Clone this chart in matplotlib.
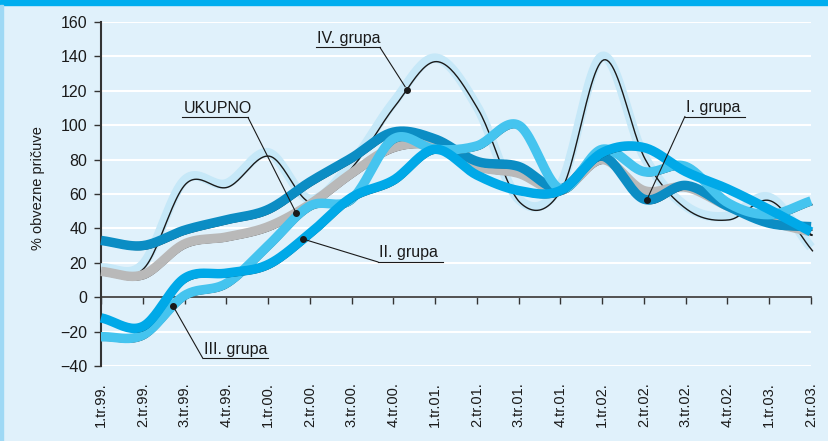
import numpy as np
import matplotlib
matplotlib.use('Agg')
import matplotlib.pyplot as plt
from matplotlib import transforms
from matplotlib.patches import Rectangle

plt.rcParams['font.family'] = ['Liberation Sans', 'DejaVu Sans']

quarters = ['1.tr.99.', '2.tr.99.', '3.tr.99.', '4.tr.99.',
            '1.tr.00.', '2.tr.00.', '3.tr.00.', '4.tr.00.',
            '1.tr.01.', '2.tr.01.', '3.tr.01.', '4.tr.01.',
            '1.tr.02.', '2.tr.02.', '3.tr.02.', '4.tr.02.',
            '1.tr.03.', '2.tr.03.']

grupa_iv = [17, 19, 68, 66, 84, 57, 78, 113, 139, 111, 57, 65, 140, 82, 53, 47, 58, 29]
ukupno = [15, 13, 31, 35, 41, 54, 72, 87, 88, 76, 72, 62, 80, 62, 64, 53, 44, 38]
grupa_i = [33, 30, 39, 45, 51, 67, 81, 96, 92, 79, 76, 63, 82, 57, 65, 53, 43, 41]
grupa_ii = [-12, -17, 11, 14, 19, 37, 58, 68, 86, 71, 62, 62, 84, 87, 73, 63, 51, 38]
grupa_iii = [-23, -22, 1, 8, 30, 53, 57, 92, 86, 88, 100, 63, 86, 73, 76, 55, 48, 56]

bg = '#e0f1fb'


def smooth(vals, n=24):
    # catmull-rom through the quarterly points
    p = np.array(vals, dtype=float)
    p = np.concatenate([[2 * p[0] - p[1]], p, [2 * p[-1] - p[-2]]])
    xs, ys = [], []
    t = np.linspace(0, 1, n, endpoint=False)
    for i in range(1, len(p) - 2):
        p0, p1, p2, p3 = p[i - 1], p[i], p[i + 1], p[i + 2]
        y = 0.5 * (2 * p1 + (-p0 + p2) * t + (2 * p0 - 5 * p1 + 4 * p2 - p3) * t ** 2
                   + (-p0 + 3 * p1 - 3 * p2 + p3) * t ** 3)
        xs.extend(i - 1 + t)
        ys.extend(y)
    xs.append(len(vals) - 1)
    ys.append(vals[-1])
    return np.array(xs), np.array(ys)


fig = plt.figure(figsize=(8.29, 4.41), dpi=100, facecolor=bg)
ax = fig.add_axes([101 / 829, 75 / 441, 710 / 829, 344 / 441], facecolor=bg)
shadow = transforms.offset_copy(ax.transData, fig=fig, x=1.5, y=-3.5, units='dots')

# frame decoration
fig.patches.append(Rectangle((0, 1 - 5 / 441), 1, 5 / 441, transform=fig.transFigure,
                             color='#00aeef', zorder=0))
fig.patches.append(Rectangle((0, 0), 3 / 829, 1 - 5 / 441, transform=fig.transFigure,
                             color='#9fd9f5', zorder=0))

series = [
    (grupa_iv, '#c6e8f8', True),
    (ukupno, '#b9b9b9', False),
    (grupa_i, '#0b8dc4', False),
    (grupa_iii, '#45c4ef', False),
    (grupa_ii, '#00a9e8', False),
]

curves = {}
for vals, col, line_on_top in series:
    xs, ys = smooth(vals)
    curves[id(vals)] = (xs, ys)
    if line_on_top:
        ax.plot(xs, ys, color=col, lw=6.8, solid_capstyle='butt', clip_on=False, zorder=3)
        ax.plot(xs, ys, color='#1a1a1a', lw=1.0, transform=shadow, clip_on=False, zorder=3)
    else:
        ax.plot(xs, ys, color='#1a1a1a', lw=1.2, transform=shadow, solid_capstyle='butt',
                clip_on=False, zorder=3)
        ax.plot(xs, ys, color=col, lw=6.8, solid_capstyle='butt', clip_on=False, zorder=3)


def label(vals, dot_x, text, x0, x1, y, on_shadow=False):
    xs, ys = curves[id(vals)]
    dot_y = np.interp(dot_x, xs, ys)
    tr = shadow if on_shadow else ax.transData
    ax.plot([dot_x], [dot_y], 'o', color='#1a1a1a', ms=4, transform=tr, zorder=5, clip_on=False)
    ax.plot([dot_x, x0 if dot_x < x0 else x1], [dot_y, y], color='#1a1a1a', lw=0.8,
            zorder=4, clip_on=False)
    ax.plot([x0, x1], [y, y], color='#1a1a1a', lw=0.8, zorder=4, clip_on=False)
    ax.text(x0 + 0.03, y + 1.0, text, fontsize=11.5, color='#1a1a1a', ha='left', va='bottom',
            zorder=4)


label(grupa_iv, 7.28, 'IV. grupa', 5.15, 6.68, 145.2, on_shadow=True)
label(ukupno, 4.67, 'UKUPNO', 1.94, 3.52, 104.5)
label(grupa_i, 13.07, 'I. grupa', 13.98, 15.42, 105)
label(grupa_ii, 4.84, 'II. grupa', 6.63, 8.19, 20.5)
label(grupa_iii, 1.72, 'III. grupa', 2.44, 4.0, -35.6)

ax.set_xlim(0, 17)
ax.set_ylim(-40, 160)
ax.set_yticks(range(-40, 161, 20))
ax.set_xticks(range(len(quarters)))
ax.tick_params(axis='y', direction='out', length=5, width=1, color='#333333',
               labelsize=11.5, labelcolor='#1a1a1a', pad=5)
ax.tick_params(axis='x', direction='out', length=5, width=1, color='#333333',
               labelbottom=False)
ax.yaxis.grid(True, color='white', lw=1.5)
ax.set_axisbelow(True)

for s in ['top', 'right']:
    ax.spines[s].set_visible(False)
ax.spines['left'].set_color('#333333')
ax.spines['left'].set_linewidth(1.5)
ax.spines['bottom'].set_position(('data', 0))
ax.spines['bottom'].set_color('#333333')
ax.spines['bottom'].set_linewidth(1.2)
ax.spines['bottom'].set_zorder(2)

for i, q in enumerate(quarters):
    ax.text(i, -49.5, q, rotation=90, ha='center', va='top', fontsize=10.5,
            color='#1a1a1a', clip_on=False)

fig.text(38 / 829, 0.574, '% obvezne pričuve', rotation=90, ha='center', va='center',
         fontsize=10.5, color='#1a1a1a')

fig.savefig('out.png', dpi=100, facecolor=bg)
